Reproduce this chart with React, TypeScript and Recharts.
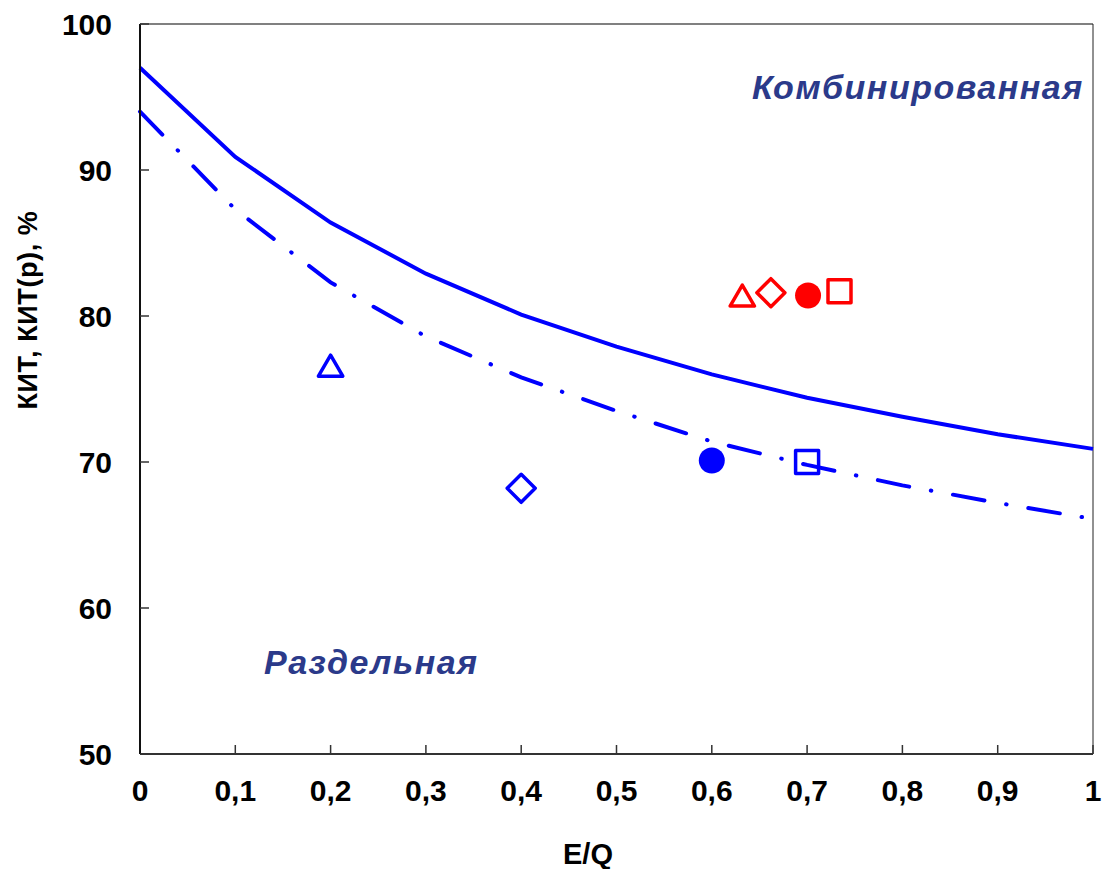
import { ComposedChart, Line, Scatter, XAxis, YAxis, ReferenceLine, Label } from 'recharts'

// E/Q share on the x axis
const EQ = [0, 0.1, 0.2, 0.3, 0.4, 0.5, 0.6, 0.7, 0.8, 0.9, 1]
// combined production (solid) and separate production (dash-dot) curves, %
const KIT_COMBINED = [97.0, 90.9, 86.4, 82.9, 80.1, 77.9, 76.0, 74.4, 73.1, 71.9, 70.9]
const KIT_SEPARATE = [94.0, 87.3, 82.3, 78.6, 75.8, 73.5, 71.4, 69.8, 68.4, 67.2, 66.1]

// individual plants: separate (blue) and combined (red) points
const SEP_EQ = [0.2, 0.4, 0.6, 0.7]
const SEP_KIT = [76.6, 68.2, 70.1, 70.0]
const COMB_EQ = [0.632, 0.662, 0.701, 0.734]
const COMB_KIT = [81.4, 81.6, 81.4, 81.7]
const MARKERS = ['triangle', 'diamond', 'circle', 'square']

const X_TICKS = [0, 0.1, 0.2, 0.3, 0.4, 0.5, 0.6, 0.7, 0.8, 0.9, 1]
const Y_TICKS = [50, 60, 70, 80, 90, 100]

const FONT = '"Liberation Sans", Arial, sans-serif'
const BLUE = '#0000FF'
const RED = '#FF0000'
const NAVY = '#2B3A8A'

const curveData = EQ.map((eq, i) => ({ eq, comb: KIT_COMBINED[i], sep: KIT_SEPARATE[i] }))

function Marker({ cx, cy, kind, color }: { cx: number; cy: number; kind: string; color: string }) {
  const sw = 3.5
  if (kind === 'circle') return <circle cx={cx} cy={cy} r={13} fill={color} />
  if (kind === 'square') {
    const s = 23
    return <rect x={cx - s / 2} y={cy - s / 2} width={s} height={s} fill="none" stroke={color} strokeWidth={sw} strokeLinejoin="round" />
  }
  if (kind === 'diamond') {
    const h = 14
    const d = `M${cx},${cy - h}L${cx + h},${cy}L${cx},${cy + h}L${cx - h},${cy}Z`
    return <path d={d} fill="none" stroke={color} strokeWidth={sw} strokeLinejoin="round" />
  }
  const hw = 12.2
  const hh = 10.5
  const d = `M${cx},${cy - hh}L${cx + hw},${cy + hh}L${cx - hw},${cy + hh}Z`
  return <path d={d} fill="none" stroke={color} strokeWidth={sw} strokeLinejoin="round" />
}

const tickStyle = { fill: '#000', fontSize: 30, fontWeight: 'bold', fontFamily: FONT }

function App() {
  return (
    <div style={{ position: 'absolute', left: 0, top: 0, width: 1102, height: 869 }}>
      <ComposedChart width={1102} height={869} data={curveData} margin={{ top: 24, right: 9, bottom: 0, left: 0 }}>
        <XAxis
          type="number"
          dataKey="eq"
          domain={[0, 1]}
          ticks={X_TICKS}
          interval={0}
          tickFormatter={(v: number) => String(v).replace('.', ',')}
          height={115}
          axisLine={{ stroke: '#333', strokeWidth: 2 }}
          tickLine={{ stroke: '#333', strokeWidth: 1.5 }}
          tickSize={-9}
          tickMargin={35}
          tick={tickStyle}
        >
          <Label
            content={() => (
              <text x={588} y={864} textAnchor="middle" fontSize={29} fontWeight="bold" fontFamily={FONT} fill="#000">
                E/Q
              </text>
            )}
          />
        </XAxis>
        <YAxis
          type="number"
          domain={[50, 100]}
          ticks={Y_TICKS}
          interval={0}
          width={140}
          axisLine={{ stroke: '#111', strokeWidth: 2 }}
          tickLine={{ stroke: '#333', strokeWidth: 1.5 }}
          tickSize={-9}
          tickMargin={37}
          tick={tickStyle}
        >
          <Label
            content={() => (
              <text
                x={28}
                y={310}
                transform="rotate(-90 28 310)"
                textAnchor="middle"
                dominantBaseline="central"
                fontSize={27}
                letterSpacing={0.6}
                fontWeight="bold"
                fontFamily={FONT}
                fill="#000"
              >
                КИТ, КИТ(р), %
              </text>
            )}
          />
        </YAxis>
        <ReferenceLine y={100} stroke="#808080" strokeWidth={2} />
        <ReferenceLine x={1} stroke="#222" strokeWidth={1} />
        <Line
          type="linear"
          dataKey="comb"
          stroke={BLUE}
          strokeWidth={4}
          dot={false}
          activeDot={false}
          isAnimationActive={false}
        />
        <Line
          type="linear"
          dataKey="sep"
          stroke={BLUE}
          strokeWidth={4}
          strokeDasharray="32 22 0.5 22"
          strokeLinecap="round"
          dot={false}
          activeDot={false}
          isAnimationActive={false}
        />
        {MARKERS.map((kind, i) => (
          <Scatter
            key={'sep' + kind}
            data={[{ eq: SEP_EQ[i], kit: SEP_KIT[i] }]}
            dataKey="kit"
            isAnimationActive={false}
            shape={(p: any) => <Marker cx={p.cx} cy={p.cy} kind={kind} color={BLUE} />}
          />
        ))}
        {MARKERS.map((kind, i) => (
          <Scatter
            key={'comb' + kind}
            data={[{ eq: COMB_EQ[i], kit: COMB_KIT[i] }]}
            dataKey="kit"
            isAnimationActive={false}
            shape={(p: any) => <Marker cx={p.cx} cy={p.cy} kind={kind} color={RED} />}
          />
        ))}
      </ComposedChart>
      <svg width={1102} height={869} style={{ position: 'absolute', left: 0, top: 0, pointerEvents: 'none' }}>
        <text x={752} y={99} fontSize={34} letterSpacing={1.5} fontWeight="bold" fontStyle="italic" fontFamily={FONT} fill={NAVY}>
          Комбинированная
        </text>
        <text x={264} y={674} fontSize={34} letterSpacing={1.5} fontWeight="bold" fontStyle="italic" fontFamily={FONT} fill={NAVY}>
          Раздельная
        </text>
      </svg>
    </div>
  )
}

export default App
